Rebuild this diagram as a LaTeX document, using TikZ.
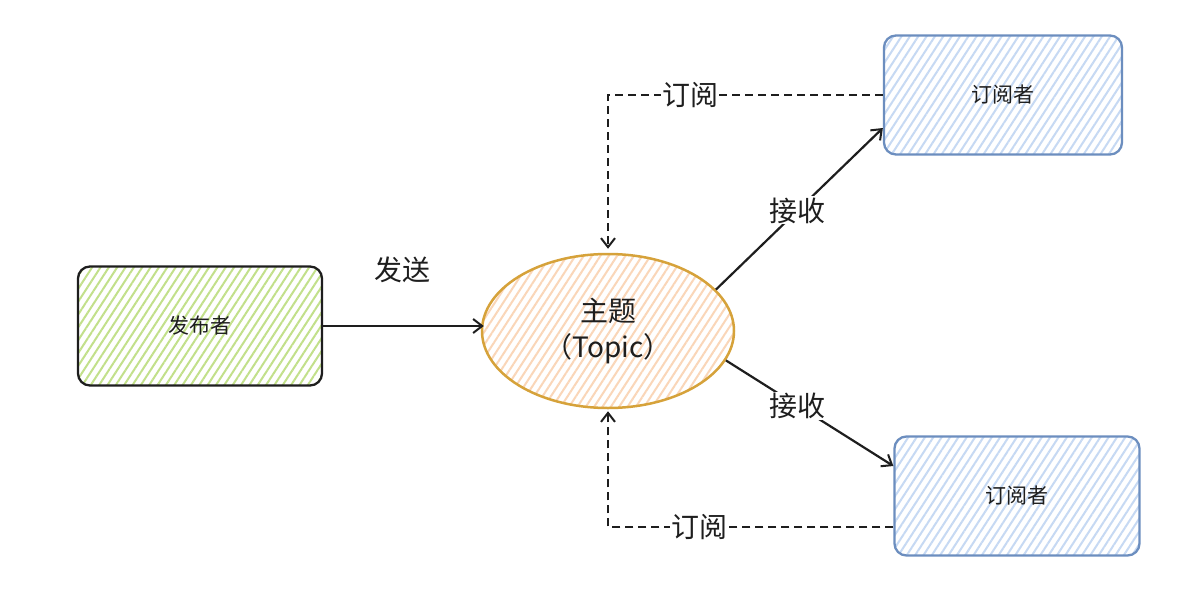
\documentclass[tikz,border=0pt]{standalone}
\usepackage{fontspec}
\setmainfont{Noto Sans CJK SC}
\usetikzlibrary{arrows.meta,patterns.meta,shapes.geometric}
\definecolor{inkc}{HTML}{1E1E1E}
\definecolor{greenhatch}{HTML}{C2E08A}
\definecolor{orangehatch}{HTML}{FAD6B8}
\definecolor{orangeline}{HTML}{D6A23A}
\definecolor{bluehatch}{HTML}{C6D9F3}
\definecolor{blueline}{HTML}{6C8EBF}
\tikzset{
  boxbase/.style={rectangle, rounded corners=12pt, line width=2.3pt, minimum width=#1, minimum height=119pt, font=\fontsize{21}{25}\selectfont, text=inkc},
  pubbox/.style={boxbase=244pt, draw=inkc, pattern={Lines[angle=57,distance=7pt,line width=2pt]}, pattern color=greenhatch},
  subbox/.style={boxbase=#1, draw=blueline, pattern={Lines[angle=57,distance=7pt,line width=2pt]}, pattern color=bluehatch},
  topicshape/.style={ellipse, minimum width=252pt, minimum height=154pt, draw=orangeline, line width=2.5pt, pattern={Lines[angle=57,distance=7pt,line width=2pt]}, pattern color=orangehatch, font=\fontsize{28}{36}\selectfont, align=center, text=inkc},
  conn/.style={draw=inkc, line width=2.2pt, -{Straight Barb[length=9pt,width=14pt,line width=2pt]}},
  subconn/.style={conn, dashed, dash pattern=on 8pt off 5pt, line width=1.8pt},
  lbl/.style={font=\fontsize{28}{32}\selectfont, text=inkc, fill=white, inner sep=1pt}
}
\begin{document}
\begin{tikzpicture}[x=1pt,y=-1pt]
\useasboundingbox[fill=white] (0,0) rectangle (1194,602);
\node[pubbox] (pub) at (200,326) {发布者};
\node[topicshape] (topic) at (608,331) {主题\\（Topic）};
\node[subbox=238pt] (sub1) at (1003,95) {订阅者};
\node[subbox=245pt] (sub2) at (1017,496) {订阅者};
\node[lbl] (send) at (402,270) {发送};
\draw[conn] (pub.east) -- ([xshift=3pt]pub.east -| topic.west);
\draw[conn] (topic.21) -- node[lbl, pos=0.49] (recv1) {接收} ([yshift=-33pt]sub1.west);
\draw[conn] (topic.-14) -- node[lbl, pos=0.43] (recv2) {接收} ([yshift=30pt]sub2.west);
\draw[subconn] (sub1.west) -| node[lbl, pos=0.35] (subs1) {订阅} ([yshift=4pt]topic.north);
\draw[subconn] ([yshift=-31pt]sub2.west) -| node[lbl, pos=0.34] (subs2) {订阅} ([yshift=-2pt]topic.south);
\end{tikzpicture}
\end{document}
